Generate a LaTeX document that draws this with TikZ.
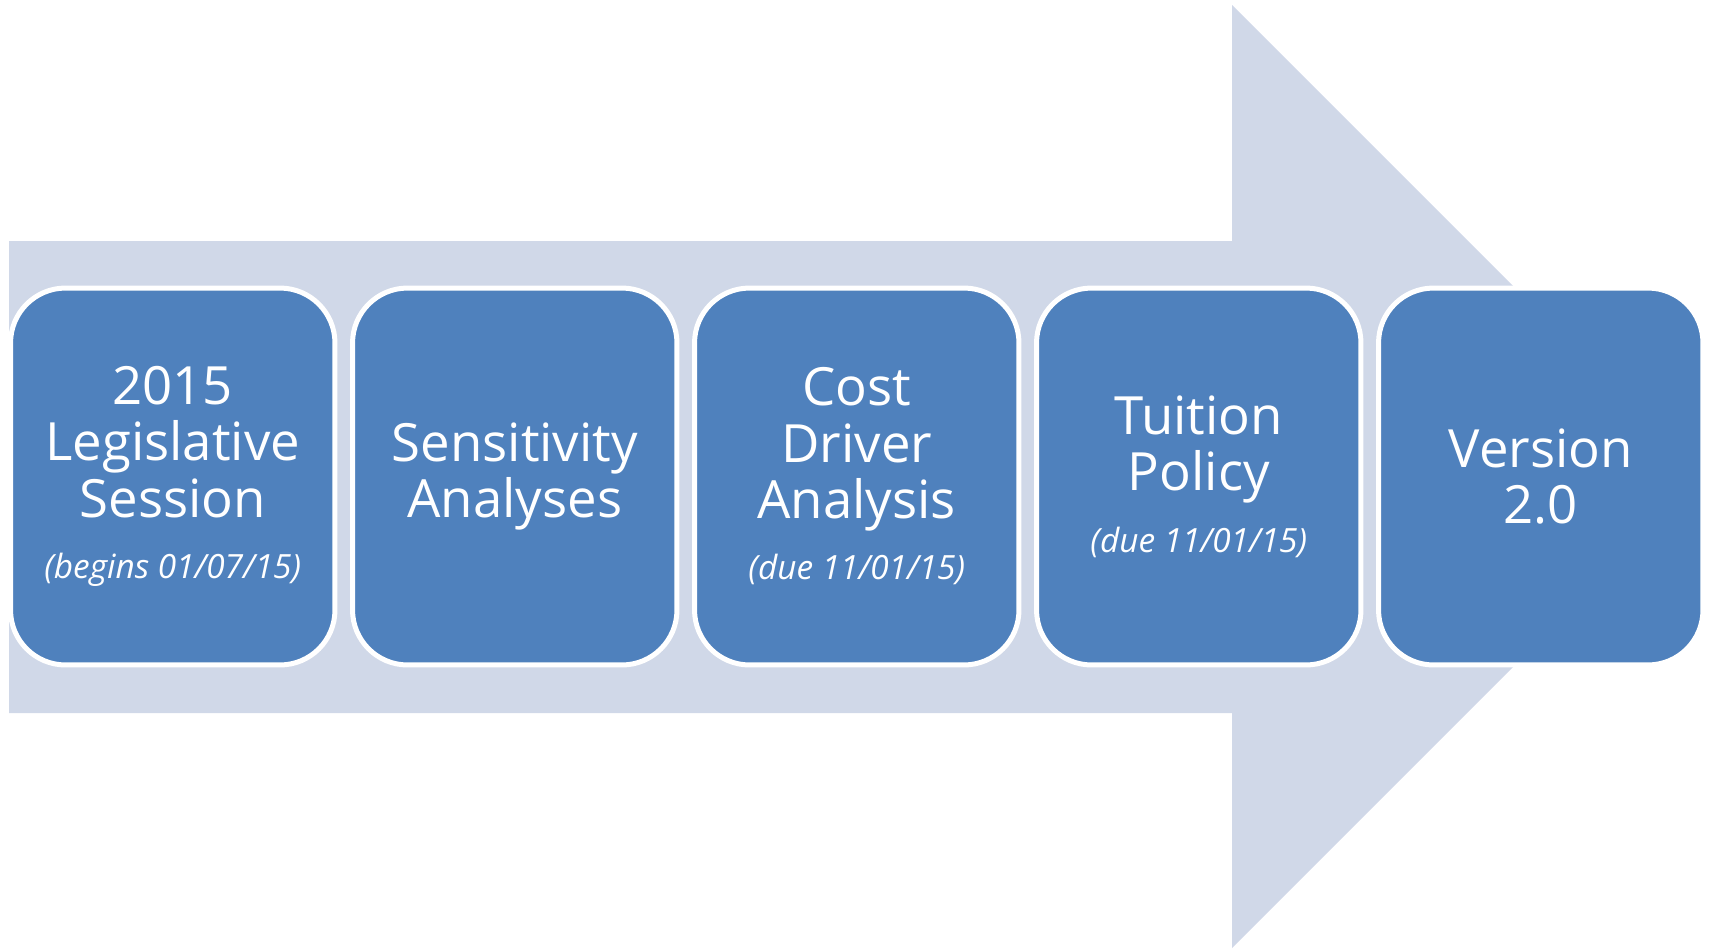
\documentclass[tikz,border=0pt]{standalone}
\usepackage{fontspec}
\setmainfont{Open Sans}
\usepackage{tikz}
\usepackage{xcolor}
\definecolor{arrowgray}{RGB}{208,216,232}
\definecolor{boxblue}{RGB}{79,129,189}
\newcommand{\duefont}{\fontsize{19}{32}\selectfont\itshape}
\tikzset{
  stepbox/.style={draw=white, line width=0.1cm, fill=boxblue, rounded corners=1.1cm,
    minimum width=6.49cm, minimum height=7.54cm, inner sep=0pt, text=white,
    align=center, font=\fontsize{30}{32}\selectfont}
}

\begin{document}
\begin{tikzpicture}[x=0.02cm, y=-0.02cm]
\useasboundingbox (0,0) rectangle (1710,948);
% big arrow behind the boxes
\fill[arrowgray] (9,241) -- (1232,241) -- (1232,5) -- (1703.5,476.5)
  -- (1232,948) -- (1232,713) -- (9,713) -- cycle;
% the five steps
\node[stepbox] (session) at (172.75,476.5) {2015\\Legislative\\Session\\[3pt]{\duefont (begins 01/07/15)}};
\node[stepbox] (sens) at (514.75,476.5) {Sensitivity\\Analyses};
\node[stepbox] (cost) at (856.75,476.5) {Cost\\Driver\\Analysis\\[3pt]{\duefont (due 11/01/15)}};
\node[stepbox] (tuition) at (1198.75,476.5) {Tuition\\Policy\\[3pt]{\duefont (due 11/01/15)}};
\node[stepbox] (version) at (1540.75,476.5) {Version\\2.0};
\end{tikzpicture}
\end{document}
